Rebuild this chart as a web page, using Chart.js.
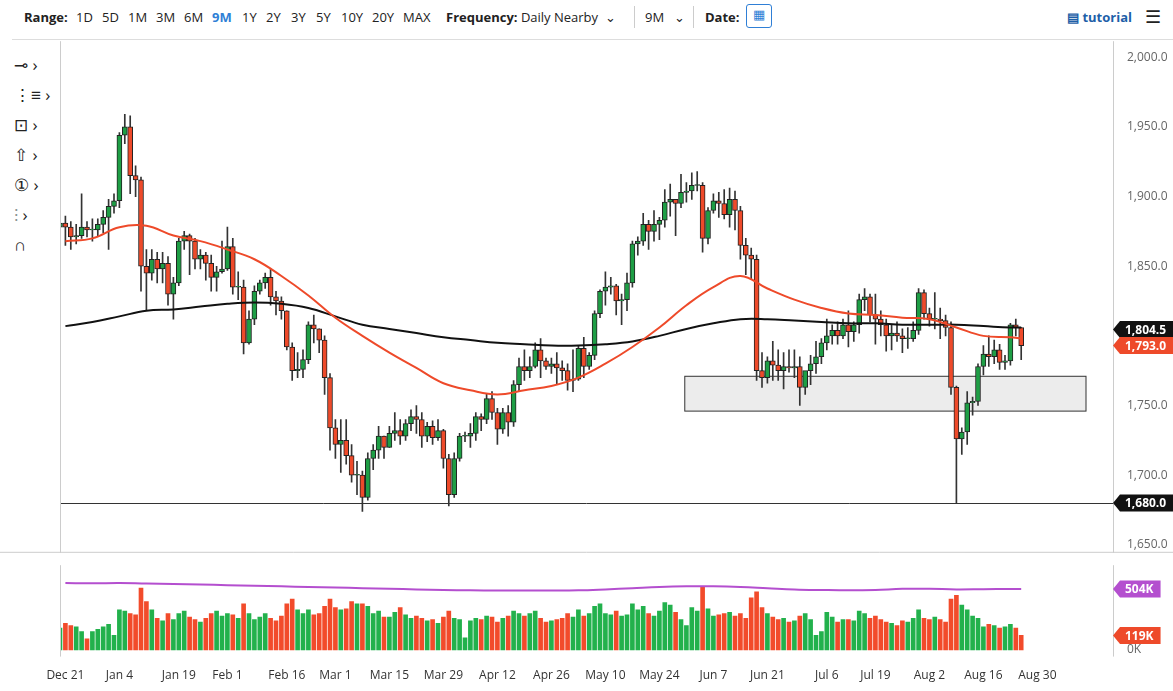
<!DOCTYPE html>
<html>
<head>
<meta charset="utf-8">
<script src="https://cdn.jsdelivr.net/npm/chart.js@4.4.1/dist/chart.umd.min.js"></script>
<style>
  body { margin: 0; width: 1173px; height: 691px; background: #fff; font-family: "Open Sans", sans-serif; overflow: hidden; position: relative; }
  #toolbar { position: absolute; left: 0; top: 0; width: 1173px; height: 36px; font-size: 13px; color: #222; }
  #toolbar span { position: absolute; top: 8px; }
  #toolbar b { font-weight: 700; }
  .sep { position: absolute; top: 6px; width: 1px; height: 22px; background: #ccc; }
  #tools { position: absolute; left: 14px; top: 50px; font-size: 17px; color: #222; line-height: 30px; }
  #priceWrap { position: absolute; left: 0; top: 28px; width: 1173px; height: 538px; }
  #volWrap { position: absolute; left: 0; top: 552px; width: 1173px; height: 135px; }
</style>
</head>
<body>
<div id="toolbar">
  <span style="left:24px"><b>Range:</b></span>
  <span style="left:76px">1D</span><span style="left:102px">5D</span><span style="left:128px">1M</span>
  <span style="left:156px">3M</span><span style="left:184px">6M</span>
  <span style="left:212px;color:#2f7fd6;font-weight:700">9M</span>
  <span style="left:242px">1Y</span><span style="left:266px">2Y</span><span style="left:291px">3Y</span>
  <span style="left:316px">5Y</span><span style="left:341px">10Y</span><span style="left:372px">20Y</span>
  <span style="left:403px">MAX</span>
  <span style="left:446px"><b>Frequency:</b> Daily Nearby &nbsp;⌄</span>
  <div class="sep" style="left:634px"></div>
  <span style="left:645px">9M &nbsp;&nbsp;⌄</span>
  <div class="sep" style="left:693px"></div>
  <span style="left:705px"><b>Date:</b></span>
  <span style="left:746px;top:4px;width:24px;height:22px;border:1px solid #2f7fd6;border-radius:3px;text-align:center;color:#2f7fd6">▦</span>
  <span style="left:1067px;color:#1e5fa8;font-weight:700">▤ tutorial</span>
  <span style="left:1145px;font-size:18px;top:4px">☰</span>
</div>
<div style="position:absolute;left:12px;top:39px;width:1161px;height:1px;background:#ddd"></div>
<div id="tools">⊸ ›<br>⋮≡ ›<br>⊡ ›<br>⇧ ›<br>① ›<br>⫶ ›<br>∩</div>
<div id="priceWrap"><canvas id="priceChart"></canvas></div>
<div id="volWrap"><canvas id="volChart"></canvas></div>
<script>
// ---------------------------------------------------------------
// DATA (daily, Dec 18 2020 .. Aug 25 2021)
// ---------------------------------------------------------------
const closes = [1881,
  1878,1871,1872,1878,1876, 1876,1880,1885,1893,1897, 1944,1950,1915,1912,1850, 1845,1855,1848,1852,1830,
  1838,1868,1872,1868,1855, 1858,1852,1842,1846,1848, 1864,1835,1835,1795,1812, 1832,1838,1842,1828,1825,
  1818,1792,1775,1776,1783, 1808,1805,1797,1770,1734, 1722,1725,1714,1700,1700, 1684,1712,1718,1728,1720,
  1730,1732,1728,1737,1742, 1740,1728,1735,1727,1732, 1712,1686,1712,1728,1728, 1730,1742,1740,1755,1745,
  1733,1745,1738,1765,1778, 1775,1778,1790,1782,1778, 1780,1777,1775,1768,1769, 1791,1778,1786,1816,1832,
  1835,1836,1825,1826,1838, 1866,1868,1880,1875,1880, 1883,1896,1898,1895,1903, 1904,1908,1908,1870,1890,
  1897,1895,1887,1898,1890, 1865,1858,1855,1775,1770, 1782,1779,1775,1778,1777, 1778,1763,1775,1780,1785,
  1795,1800,1804,1800,1808, 1803,1808,1826,1828,1815, 1812,1808,1800,1802,1800, 1798,1798,1804,1831,1816,
  1812,1812,1811,1806,1763, 1726,1731,1752,1753,1778, 1787,1785,1790,1781,1782, 1808,1806,1793];
const opens = [1878].concat(closes.slice(0, -1));
const highs = [1890,
  1886,1882,1880,1902,1882, 1884,1884,1890,1898,1902, 1946,1959,1958,1922,1914, 1862,1862,1860,1860,1857,
  1842,1870,1875,1873,1870, 1862,1860,1858,1850,1868, 1878,1870,1846,1840,1818, 1836,1840,1845,1848,1832,
  1828,1818,1795,1788,1790, 1810,1815,1805,1800,1773, 1740,1740,1740,1722,1710, 1703,1716,1722,1735,1728,
  1735,1745,1740,1740,1747, 1750,1745,1738,1739,1740, 1733,1715,1716,1730,1731, 1737,1745,1744,1758,1760,
  1748,1748,1750,1768,1784, 1790,1785,1795,1798,1784, 1784,1788,1782,1780,1790, 1793,1799,1788,1818,1833,
  1846,1842,1837,1830,1845, 1868,1871,1888,1883,1890, 1885,1905,1909,1896,1916, 1910,1917,1918,1910,1892,
  1902,1903,1905,1906,1904, 1893,1870,1863,1858,1788, 1785,1796,1790,1788,1790, 1790,1785,1772,1786,1796,
  1798,1812,1808,1810,1812, 1818,1810,1830,1834,1830, 1830,1818,1812,1808,1810, 1805,1806,1810,1834,1833,
  1820,1831,1820,1815,1810, 1764,1734,1760,1756,1780, 1793,1800,1797,1794,1786, 1809,1812,1806];
const lows = [1872,
  1865,1862,1866,1870,1871, 1868,1872,1874,1862,1888, 1892,1938,1902,1900,1832, 1818,1840,1838,1838,1822,
  1812,1836,1862,1844,1848, 1848,1840,1832,1832,1845, 1847,1830,1826,1787,1794, 1808,1830,1834,1822,1815,
  1812,1790,1768,1770,1770, 1780,1795,1788,1758,1718, 1712,1702,1708,1695,1686, 1674,1682,1704,1712,1712,
  1720,1725,1722,1725,1732, 1730,1720,1724,1722,1725, 1705,1678,1684,1710,1724, 1720,1725,1732,1737,1740,
  1722,1730,1728,1735,1760, 1768,1770,1777,1770,1776, 1773,1765,1768,1761,1760, 1768,1770,1776,1783,1813,
  1822,1830,1815,1808,1818, 1835,1858,1865,1862,1868, 1869,1878,1886,1872,1892, 1896,1898,1904,1860,1866,
  1888,1885,1884,1878,1876, 1855,1844,1841,1768,1763, 1766,1768,1768,1762,1774, 1770,1750,1758,1765,1773,
  1780,1790,1794,1794,1798, 1792,1796,1802,1818,1810, 1794,1800,1789,1790,1796, 1788,1791,1796,1801,1812,
  1807,1805,1798,1800,1758, 1680,1715,1722,1743,1750, 1772,1778,1780,1776,1776, 1779,1800,1783];
const volumes = [180,
  220,200,190,150,90, 150,170,190,210,120, 330,320,300,290,510, 400,330,260,240,300,
  250,300,320,270,250, 230,260,300,320,280, 300,290,260,380,300, 250,270,300,260,240,
  280,380,420,330,300, 330,290,300,360,420, 350,330,340,400,380, 380,360,300,320,270,
  270,310,350,290,260, 280,260,240,250,220, 270,320,260,250,100, 240,260,250,280,270,
  230,260,280,320,300, 280,300,320,260,230, 240,250,260,300,270, 330,280,300,360,380,
  300,290,320,280,290, 380,330,360,300,280, 320,390,370,310,250, 200,350,320,520,340,
  280,290,300,310,280, 300,260,430,480,350, 300,270,250,260,230, 240,280,300,250,120,
  150,310,270,230,250, 250,240,320,300,260, 280,250,230,220,200, 240,230,260,330,260,
  250,270,250,230,420, 450,370,330,280,260, 190,210,200,180,190, 210,180,119];
// moving averages / open interest read weekly (at each Monday index) plus the last day
const ma50Weekly  = [1868,1870,1878,1879,1872,1868,1862,1855,1843,1829,1813,1800,1788,1777,1766,1761,1758,1761,
  1764,1770,1780,1792,1806,1822,1835,1843,1834,1826,1820,1816,1815,1813,1812,1806,1800,1799,1798];
const ma200Weekly = [1807,1810,1814,1818,1819,1821,1823,1824,1823,1820,1814,1808,1805,1802,1799,1797,1795,1794,
  1793,1793,1794,1796,1800,1805,1809,1812,1812,1811,1810,1809,1809,1808,1808,1808,1807,1806,1806];
const oiWeekly    = [553,550,552,548,545,540,535,530,525,520,515,510,505,500,495,492,490,490,490,492,500,510,
  520,525,525,520,510,500,495,492,495,505,505,500,502,504,504];
const priceTicks = [1650,1700,1750,1800,1850,1900,1950,2000];
const dateTicks = ['Dec 21','Jan 4','Jan 19','Feb 1','Feb 16','Mar 1','Mar 15','Mar 29','Apr 12','Apr 26',
  'May 10','May 24','Jun 7','Jun 21','Jul 6','Jul 19','Aug 2','Aug 16','Aug 30'];
const zoneLow = 1746, zoneHigh = 1771, zoneFrom = 115.7, zoneTo = 190;
const supportLevel = 1680;

// ---------------------------------------------------------------
// BUILD SERIES
// ---------------------------------------------------------------
const GREEN = '#1e9e45', RED = '#ee4a2a';
const MONTHS = ['Jan','Feb','Mar','Apr','May','Jun','Jul','Aug','Sep','Oct','Nov','Dec'];
const labels = [];
for (let d = new Date(2020, 11, 18); labels.length < 196; d.setDate(d.getDate() + 1)) {
  if (d.getDay() === 0 || d.getDay() === 6) continue;
  labels.push(MONTHS[d.getMonth()] + ' ' + d.getDate());
}
const n = closes.length;
const weeklyIdx = ma50Weekly.map((_, k) => (k < 36 ? 1 + 5 * k : n - 1));
function weeklyLine(vals) {
  const arr = new Array(labels.length).fill(null);
  weeklyIdx.forEach((idx, k) => { arr[idx] = vals[k]; });
  return arr;
}
const up = closes.map((c, i) => c >= opens[i]);
const candleColors = up.map((u) => (u ? GREEN : RED));

const fmt = (v) => v.toLocaleString('en-US', { minimumFractionDigits: 1, maximumFractionDigits: 1 });

function drawTag(ctx, x, y, text, bg) {
  ctx.save();
  ctx.font = 'bold 12px "Open Sans"';
  const w = ctx.measureText(text).width + 12, h = 17;
  ctx.fillStyle = bg;
  ctx.beginPath();
  ctx.moveTo(x, y);
  ctx.lineTo(x + 7, y - h / 2);
  ctx.lineTo(x + 7 + w, y - h / 2);
  ctx.lineTo(x + 7 + w, y + h / 2);
  ctx.lineTo(x + 7, y + h / 2);
  ctx.closePath();
  ctx.fill();
  ctx.fillStyle = '#fff';
  ctx.textBaseline = 'middle';
  ctx.fillText(text, x + 12, y + 1);
  ctx.restore();
}

// zone rectangle + support line + price tags
const priceOverlay = {
  id: 'priceOverlay',
  beforeDatasetsDraw(chart) {
    const { ctx, scales: { x, y }, chartArea } = chart;
    const x0 = x.getPixelForValue(zoneFrom), x1 = x.getPixelForValue(zoneTo);
    const y0 = y.getPixelForValue(zoneHigh), y1 = y.getPixelForValue(zoneLow);
    ctx.save();
    ctx.fillStyle = '#ececec';
    ctx.strokeStyle = '#333';
    ctx.lineWidth = 1;
    ctx.fillRect(x0, y0, x1 - x0, y1 - y0);
    ctx.strokeRect(x0, y0, x1 - x0, y1 - y0);
    const ys = Math.round(y.getPixelForValue(supportLevel)) + 0.5;
    ctx.beginPath();
    ctx.moveTo(chartArea.left, ys);
    ctx.lineTo(chartArea.right, ys);
    ctx.stroke();
    ctx.restore();
  },
  afterDraw(chart) {
    const { ctx, scales: { y }, chartArea } = chart;
    ctx.save();
    ctx.strokeStyle = '#ccc';
    ctx.beginPath();
    ctx.moveTo(chartArea.left + 0.5, chartArea.top); ctx.lineTo(chartArea.left + 0.5, chartArea.bottom);
    ctx.moveTo(chartArea.right + 0.5, chartArea.top); ctx.lineTo(chartArea.right + 0.5, chartArea.bottom);
    ctx.moveTo(0, chartArea.bottom - 0.5); ctx.lineTo(chart.width, chartArea.bottom - 0.5);
    ctx.stroke();
    ctx.restore();
    drawTag(ctx, chartArea.right, y.getPixelForValue(ma200Weekly[ma200Weekly.length - 1] - 1.5), fmt(1804.5), '#111');
    drawTag(ctx, chartArea.right, y.getPixelForValue(closes[n - 1]), fmt(closes[n - 1]), RED);
    drawTag(ctx, chartArea.right, y.getPixelForValue(supportLevel), fmt(supportLevel), '#111');
  }
};

const volOverlay = {
  id: 'volOverlay',
  afterDraw(chart) {
    const { ctx, scales: { y }, chartArea } = chart;
    ctx.save();
    ctx.strokeStyle = '#ccc';
    ctx.beginPath();
    ctx.moveTo(chartArea.left + 0.5, chartArea.top); ctx.lineTo(chartArea.left + 0.5, chartArea.bottom);
    ctx.moveTo(chartArea.right + 0.5, chartArea.top); ctx.lineTo(chartArea.right + 0.5, chartArea.bottom);
    ctx.stroke();
    ctx.restore();
    drawTag(ctx, chartArea.right, y.getPixelForValue(oiWeekly[oiWeekly.length - 1]), oiWeekly[oiWeekly.length - 1] + 'K', '#b44fcf');
    drawTag(ctx, chartArea.right, y.getPixelForValue(volumes[n - 1]), volumes[n - 1] + 'K', RED);
  }
};

const tickFont = { family: 'Open Sans', size: 12 };

// ---------------------------------------------------------------
// PRICE CHART
// ---------------------------------------------------------------
new Chart(document.getElementById('priceChart'), {
  data: {
    labels,
    datasets: [
      { type: 'line', data: weeklyLine(ma50Weekly), borderColor: '#ee4a2a', borderWidth: 2, pointRadius: 0, spanGaps: true, tension: 0.4, order: 1 },
      { type: 'line', data: weeklyLine(ma200Weekly), borderColor: '#111', borderWidth: 2, pointRadius: 0, spanGaps: true, tension: 0.4, order: 2 },
      { type: 'bar', data: closes.map((c, i) => [lows[i], highs[i]]), backgroundColor: '#333', barThickness: 1, grouped: false, order: 4 },
      { type: 'bar', data: closes.map((c, i) => [opens[i], c === opens[i] ? c + 0.6 : c]), backgroundColor: candleColors,
        borderColor: '#222', borderWidth: 1, borderSkipped: false, barThickness: 5, grouped: false, order: 3 }
    ]
  },
  options: {
    animation: false,
    responsive: true,
    maintainAspectRatio: false,
    layout: { padding: { left: 60, top: 0, bottom: 0, right: 0 } },
    plugins: { legend: { display: false }, tooltip: { enabled: false } },
    scales: {
      x: { display: false, offset: false, min: 0, max: labels.length - 1 },
      y: {
        position: 'right', min: 1644.3, max: 2011.5,
        afterBuildTicks: (s) => { s.ticks = priceTicks.map((v) => ({ value: v })); },
        afterFit: (s) => { s.width = 60; },
        grid: { display: false },
        border: { display: false },
        ticks: { color: '#666', font: tickFont, padding: 6, callback: (v) => fmt(v) }
      }
    }
  },
  plugins: [priceOverlay]
});

// ---------------------------------------------------------------
// VOLUME CHART
// ---------------------------------------------------------------
new Chart(document.getElementById('volChart'), {
  data: {
    labels,
    datasets: [
      { type: 'line', data: weeklyLine(oiWeekly), borderColor: '#b44fcf', borderWidth: 2, pointRadius: 0, spanGaps: true, tension: 0.4, order: 1 },
      { type: 'bar', data: volumes, backgroundColor: candleColors.map((c) => (c === GREEN ? '#22b14c' : '#f24b2b')), barThickness: 4, order: 2 }
    ]
  },
  options: {
    animation: false,
    responsive: true,
    maintainAspectRatio: false,
    layout: { padding: { left: 60, top: 0, bottom: 0, right: 0 } },
    plugins: { legend: { display: false }, tooltip: { enabled: false } },
    scales: {
      x: {
        offset: false, min: 0, max: labels.length - 1,
        grid: { display: false }, border: { display: false },
        ticks: {
          autoSkip: false, maxRotation: 0, color: '#333', font: tickFont, padding: 4,
          callback: (v, i) => (dateTicks.includes(labels[i]) ? labels[i] : null)
        }
      },
      y: {
        position: 'right', min: -56, max: 700,
        afterBuildTicks: (s) => { s.ticks = [{ value: 0 }]; },
        afterFit: (s) => { s.width = 60; },
        grid: { display: false }, border: { display: false },
        ticks: { color: '#666', font: tickFont, padding: 6, callback: (v) => v + 'K' }
      }
    }
  },
  plugins: [volOverlay]
});
</script>
</body>
</html>
